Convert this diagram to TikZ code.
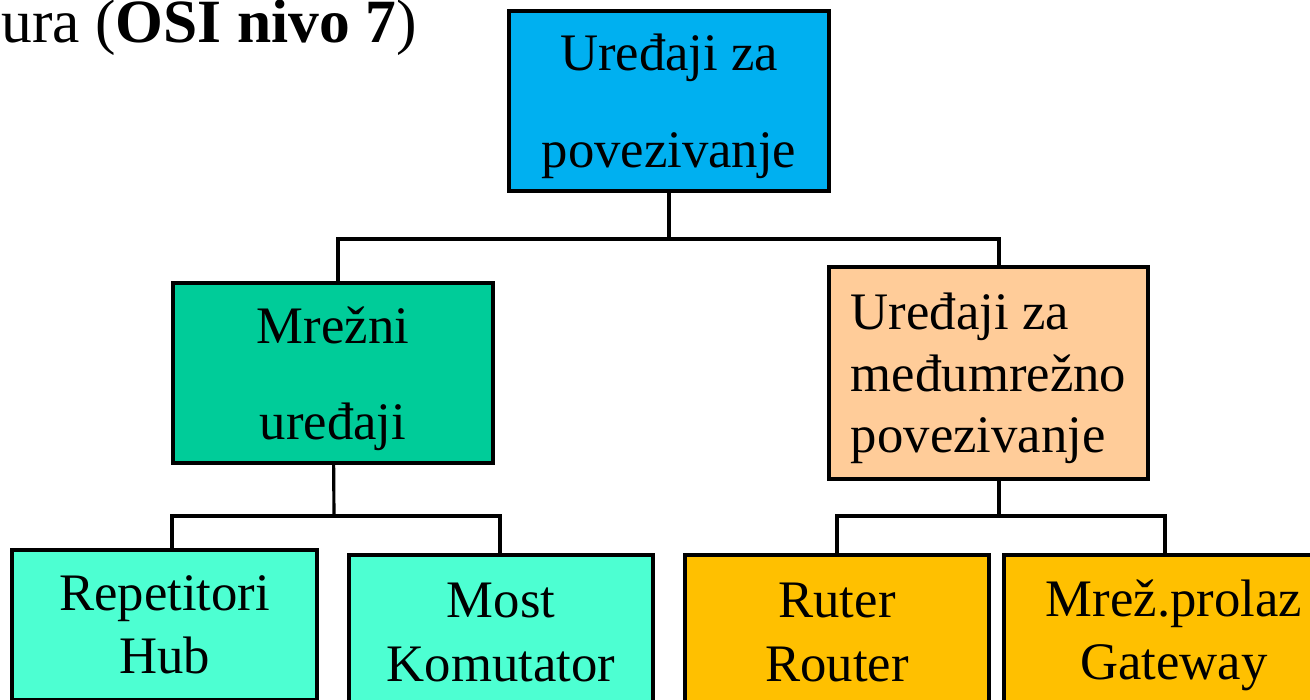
\documentclass[tikz,border=0pt]{standalone}
\usepackage{fontspec}
\setmainfont{Liberation Serif}
\begin{document}
\begin{tikzpicture}[x=0.02cm,y=-0.02cm,line width=1.8pt,
    box/.style={draw=black,rectangle,inner sep=0pt,align=center,font=\fontsize{30}{36}\selectfont},
    wide/.style={font=\fontsize{30}{55}\selectfont,text depth=0pt}]
    \useasboundingbox (0,0) rectangle (1310,699);
    %title, cut at the left
    \node[anchor=base west,inner sep=0pt,font=\fontsize{35}{40}\selectfont] (naslov) at (0,43) {ura (\textbf{OSI nivo 7})};
    %draw boxes
    \node[box,wide,fill={rgb,255:red,0;green,176;blue,240},minimum width=6.4cm,minimum height=3.6cm] (top) at (669,101) {Uređaji za\\povezivanje};
    \node[box,wide,fill={rgb,255:red,0;green,204;blue,153},minimum width=6.4cm,minimum height=3.6cm] (mreza) at (333,373) {Mrežni\\uređaji};
    \node[box,fill={rgb,255:red,255;green,204;blue,153},minimum width=6.38cm,minimum height=4.24cm,align=left,text depth=0pt,font=\fontsize{30}{35}\selectfont] (medju) at (988.5,373) {Uređaji za\\međumrežno\\povezivanje};
    \node[box,fill={rgb,255:red,77;green,255;blue,210},minimum width=6.1cm,minimum height=3cm] (rep) at (164.5,625) {Repetitori\\Hub};
    \node[box,fill={rgb,255:red,77;green,255;blue,210},minimum width=6.08cm,minimum height=3.1cm] (most) at (501,632.5) {Most\\Komutator};
    \node[box,fill={rgb,255:red,255;green,192;blue,0},minimum width=6.08cm,minimum height=3.1cm] (ruter) at (837,632.5) {Ruter\\Router};
    \node[box,fill={rgb,255:red,255;green,192;blue,0},minimum width=6.8cm,minimum height=3.2cm] (prolaz) at (1174,635) {Mrež.prolaz\\Gateway};
    %draw lines
    \coordinate (j1) at (669,239);
    \coordinate (j2) at (334,516);
    \coordinate (j3) at (999,516);
    \draw (top) -- (j1);
    \draw (j1) -| (338,0 |- mreza.north);
    \draw (j1) -| (999,0 |- medju.north);
    \draw (mreza) -- (j2);
    \draw (j2) -| (172,0 |- rep.north);
    \draw (j2) -| (500,0 |- most.north);
    \draw (999,0 |- medju.south) -- (j3);
    \draw (j3) -| (837,0 |- ruter.north);
    \draw (j3) -| (1165,0 |- prolaz.north);
\end{tikzpicture}
\end{document}
